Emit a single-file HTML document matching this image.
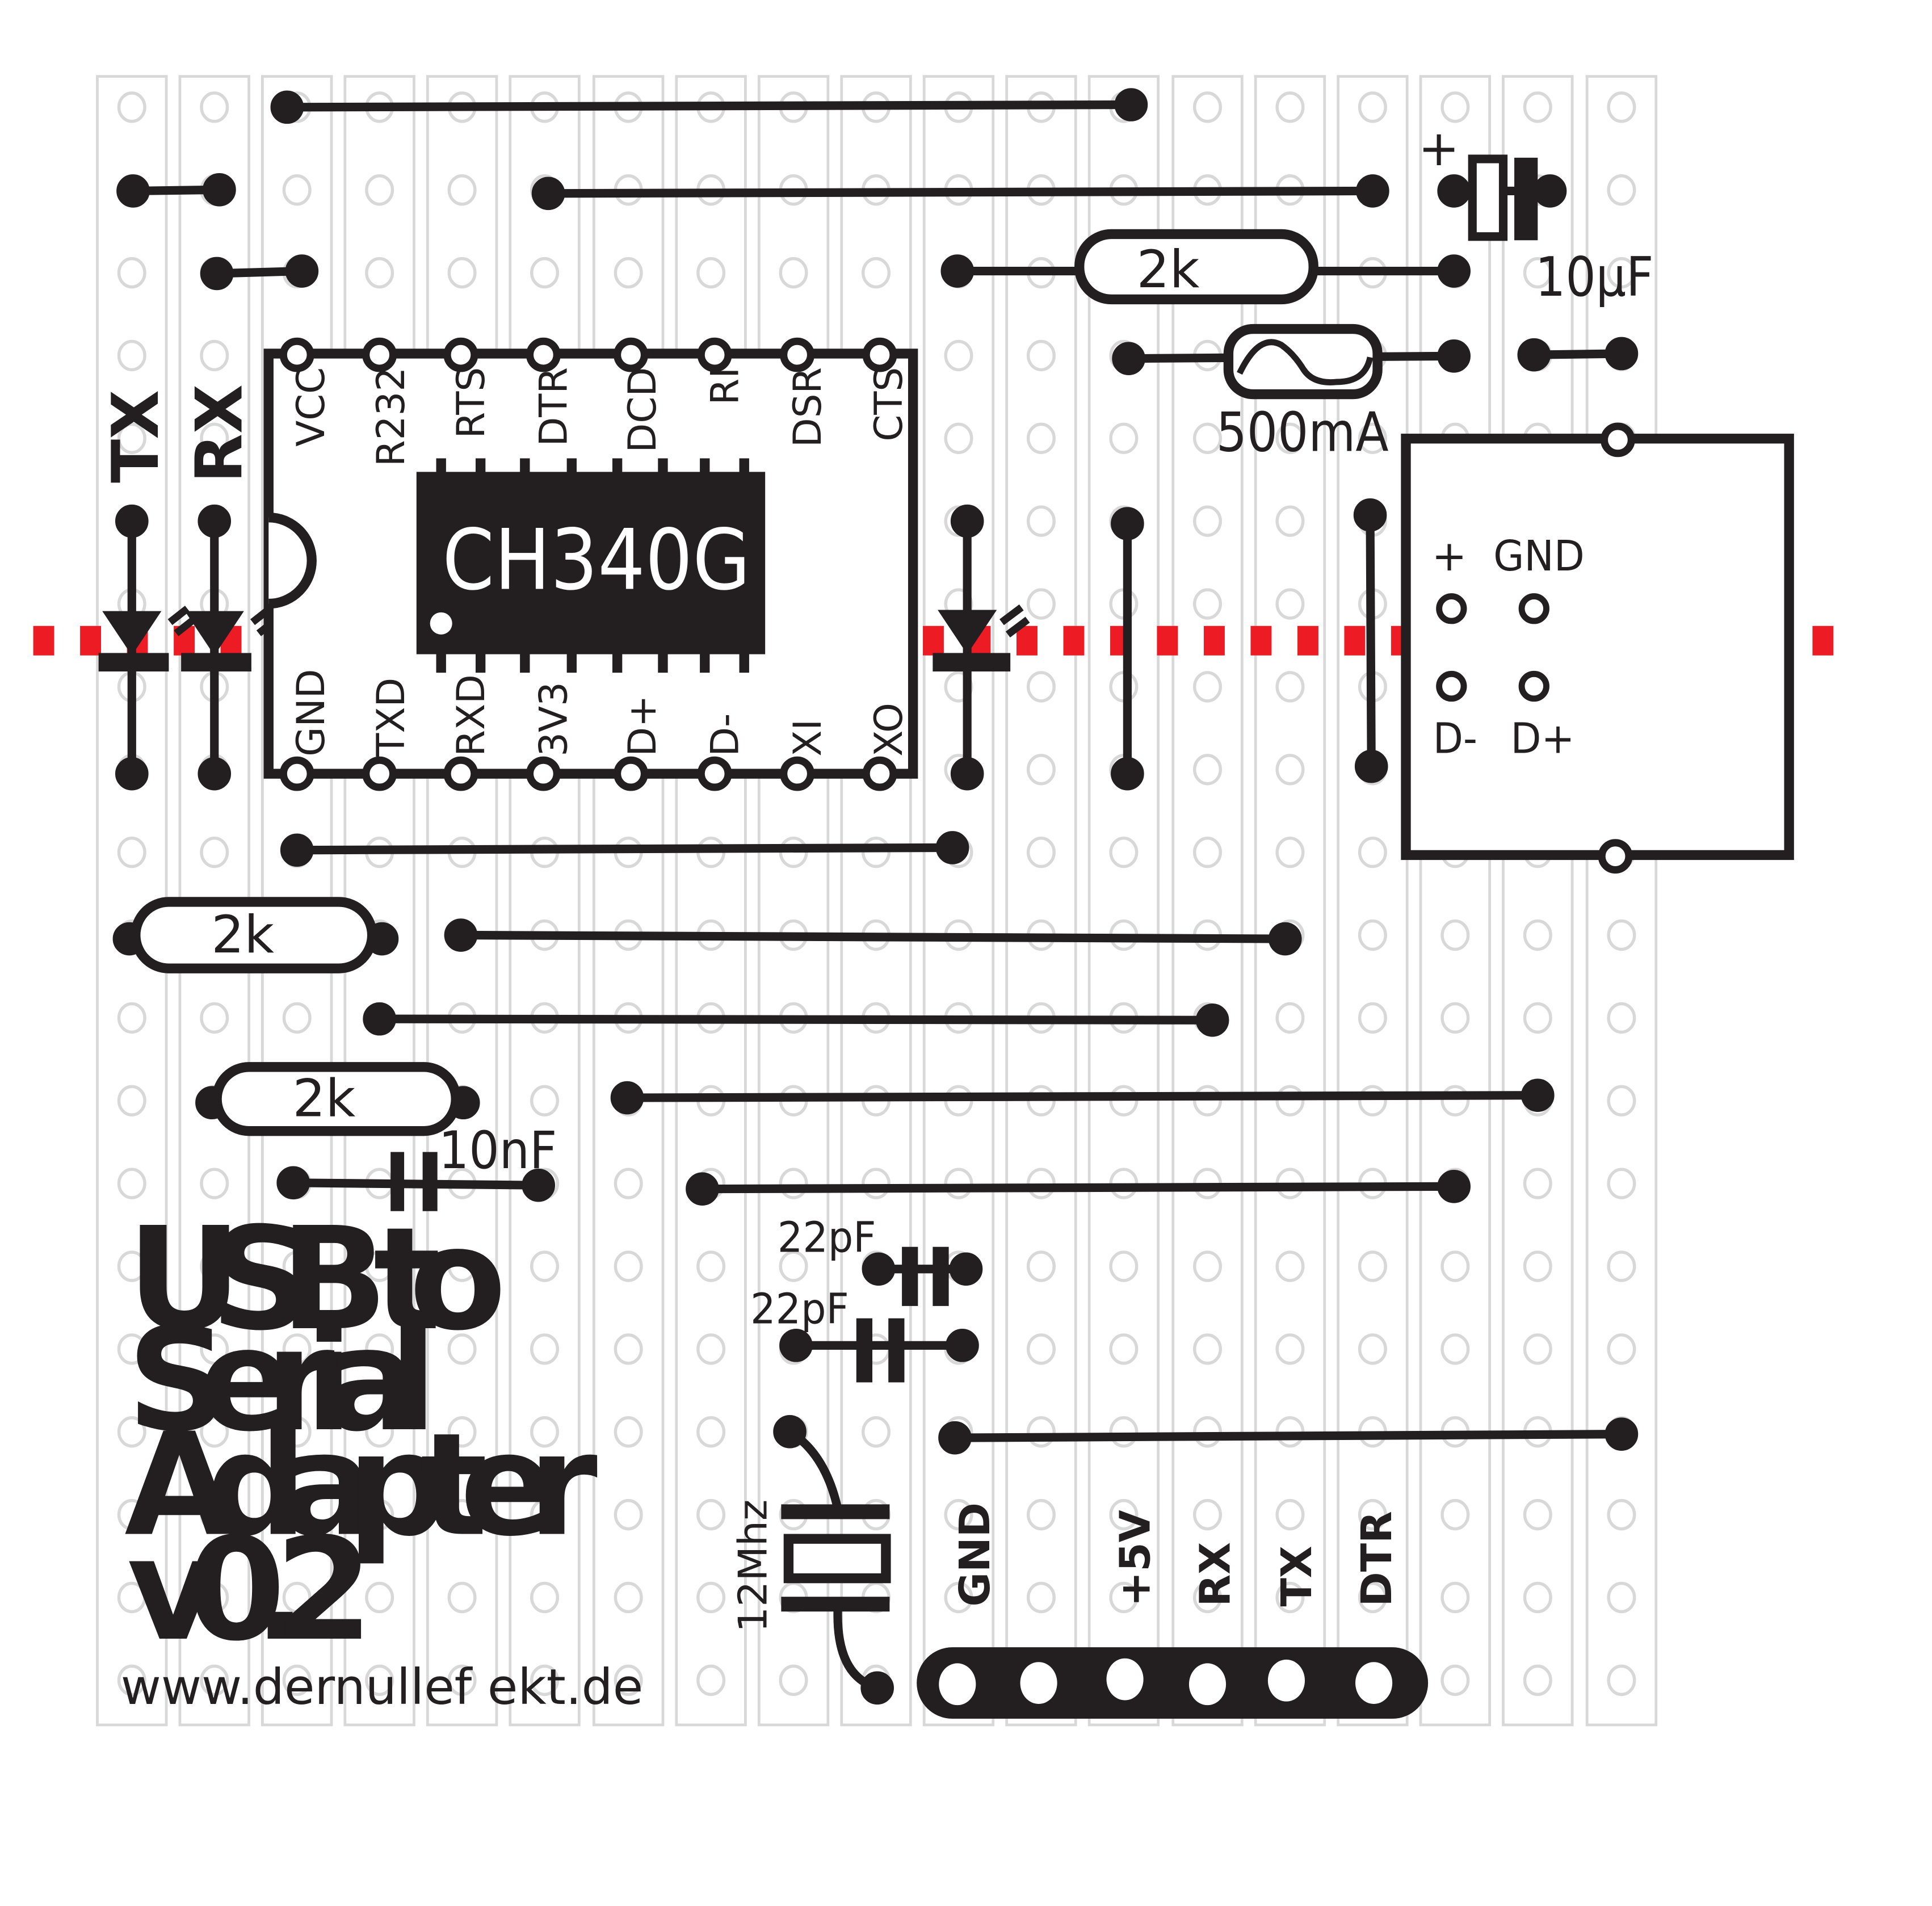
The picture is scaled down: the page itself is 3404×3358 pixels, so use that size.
<!DOCTYPE html>
<html><head><meta charset="utf-8"><style>html,body{margin:0;padding:0;background:#fff}svg{display:block}</style></head>
<body>
<svg xmlns="http://www.w3.org/2000/svg" width="3404" height="3358" viewBox="0 0 1568 1547" preserveAspectRatio="none" font-family="DejaVu Sans, Liberation Sans, sans-serif">
<rect width="1568" height="1547" fill="#fff"/>
<g fill="none" stroke="#d8d8d8" stroke-width="2.2">
<rect x="79" y="62" width="56" height="1338"/><rect x="146" y="62" width="56" height="1338"/><rect x="213" y="62" width="56" height="1338"/><rect x="280" y="62" width="56" height="1338"/><rect x="347" y="62" width="56" height="1338"/><rect x="414" y="62" width="56" height="1338"/><rect x="482" y="62" width="56" height="1338"/><rect x="549" y="62" width="56" height="1338"/><rect x="616" y="62" width="56" height="1338"/><rect x="683" y="62" width="56" height="1338"/><rect x="750" y="62" width="56" height="1338"/><rect x="817" y="62" width="56" height="1338"/><rect x="884" y="62" width="56" height="1338"/><rect x="952" y="62" width="56" height="1338"/><rect x="1019" y="62" width="56" height="1338"/><rect x="1086" y="62" width="56" height="1338"/><rect x="1153" y="62" width="56" height="1338"/><rect x="1220" y="62" width="56" height="1338"/><rect x="1288" y="62" width="56" height="1338"/>
</g>
<g fill="none" stroke="#d8d8d8" stroke-width="2.5">
<g id="r0">
<ellipse cx="107" cy="87" rx="10.5" ry="11.5"/><ellipse cx="174" cy="87" rx="10.5" ry="11.5"/><ellipse cx="241" cy="87" rx="10.5" ry="11.5"/><ellipse cx="308" cy="87" rx="10.5" ry="11.5"/><ellipse cx="375" cy="87" rx="10.5" ry="11.5"/><ellipse cx="442" cy="87" rx="10.5" ry="11.5"/><ellipse cx="510" cy="87" rx="10.5" ry="11.5"/><ellipse cx="577" cy="87" rx="10.5" ry="11.5"/><ellipse cx="644" cy="87" rx="10.5" ry="11.5"/><ellipse cx="711" cy="87" rx="10.5" ry="11.5"/><ellipse cx="778" cy="87" rx="10.5" ry="11.5"/><ellipse cx="845" cy="87" rx="10.5" ry="11.5"/><ellipse cx="912" cy="87" rx="10.5" ry="11.5"/><ellipse cx="980" cy="87" rx="10.5" ry="11.5"/><ellipse cx="1047" cy="87" rx="10.5" ry="11.5"/><ellipse cx="1114" cy="87" rx="10.5" ry="11.5"/><ellipse cx="1181" cy="87" rx="10.5" ry="11.5"/><ellipse cx="1248" cy="87" rx="10.5" ry="11.5"/><ellipse cx="1316" cy="87" rx="10.5" ry="11.5"/>
</g>
<use href="#r0" y="67.2"/><use href="#r0" y="134.4"/><use href="#r0" y="201.6"/><use href="#r0" y="268.8"/><use href="#r0" y="336"/><use href="#r0" y="403.2"/><use href="#r0" y="470.4"/><use href="#r0" y="537.6"/><use href="#r0" y="604.8"/><use href="#r0" y="672"/><use href="#r0" y="739.2"/><use href="#r0" y="806.4"/><use href="#r0" y="873.6"/><use href="#r0" y="940.8"/><use href="#r0" y="1008"/><use href="#r0" y="1075.2"/><use href="#r0" y="1142.4"/><use href="#r0" y="1209.6"/><use href="#r0" y="1276.8"/>
</g>

<line x1="27" y1="520" x2="1500" y2="520" stroke="#ed1c24" stroke-width="24" stroke-dasharray="17 21"/>

<g stroke="#231f20" stroke-width="7" fill="#231f20" stroke-linecap="round">
<line x1="233" y1="87" x2="918" y2="85"/><circle cx="233" cy="87" r="10"/><circle cx="918" cy="85" r="10"/>
<line x1="108" y1="155" x2="178" y2="154"/><circle cx="108" cy="155" r="10"/><circle cx="178" cy="154" r="10"/>
<line x1="445" y1="157" x2="1114" y2="155"/><circle cx="445" cy="157" r="10"/><circle cx="1114" cy="155" r="10"/>
<line x1="176" y1="222" x2="245" y2="220"/><circle cx="176" cy="222" r="10"/><circle cx="245" cy="220" r="10"/>
<line x1="777" y1="220" x2="1180" y2="220"/><circle cx="777" cy="220" r="10"/><circle cx="1180" cy="220" r="10"/>
<line x1="916" y1="291" x2="1180" y2="289"/><circle cx="916" cy="291" r="10"/><circle cx="1180" cy="289" r="10"/>
<line x1="1245" y1="288" x2="1316" y2="287"/><circle cx="1245" cy="288" r="10"/><circle cx="1316" cy="287" r="10"/>
<line x1="1180" y1="155" x2="1258" y2="155"/><circle cx="1180" cy="155" r="10"/><circle cx="1258" cy="155" r="10"/>
<line x1="241" y1="690" x2="773" y2="688"/><circle cx="241" cy="690" r="10"/><circle cx="773" cy="688" r="10"/>
<line x1="374" y1="759" x2="1043" y2="762"/><circle cx="374" cy="759" r="10"/><circle cx="1043" cy="762" r="10"/>
<line x1="308" y1="827" x2="984" y2="828"/><circle cx="308" cy="827" r="10"/><circle cx="984" cy="828" r="10"/>
<line x1="509" y1="891" x2="1248" y2="889"/><circle cx="509" cy="891" r="10"/><circle cx="1248" cy="889" r="10"/>
<line x1="570" y1="965" x2="1180" y2="963"/><circle cx="570" cy="965" r="10"/><circle cx="1180" cy="963" r="10"/>
<line x1="775" y1="1167" x2="1316" y2="1164"/><circle cx="775" cy="1167" r="10"/><circle cx="1316" cy="1164" r="10"/>
<line x1="915" y1="425" x2="915" y2="628"/><circle cx="915" cy="425" r="10"/><circle cx="915" cy="628" r="10"/>
<line x1="1112" y1="418" x2="1113" y2="622"/><circle cx="1112" cy="418" r="10"/><circle cx="1113" cy="622" r="10"/>
<line x1="107" y1="423" x2="107" y2="628"/><circle cx="107" cy="423" r="10"/><circle cx="107" cy="628" r="10"/>
<line x1="174" y1="423" x2="174" y2="628"/><circle cx="174" cy="423" r="10"/><circle cx="174" cy="628" r="10"/>
<line x1="785" y1="423" x2="785" y2="628"/><circle cx="785" cy="423" r="10"/><circle cx="785" cy="628" r="10"/>
<line x1="105" y1="762" x2="310" y2="762"/><circle cx="105" cy="762" r="10"/><circle cx="310" cy="762" r="10"/>
<line x1="172" y1="895" x2="376" y2="895"/><circle cx="172" cy="895" r="10"/><circle cx="376" cy="895" r="10"/>
<line x1="238" y1="960" x2="437" y2="962"/><circle cx="238" cy="960" r="10"/><circle cx="437" cy="962" r="10"/>
<line x1="713" y1="1030" x2="784" y2="1030"/><circle cx="713" cy="1030" r="10"/><circle cx="784" cy="1030" r="10"/>
<line x1="646" y1="1092" x2="781" y2="1092"/><circle cx="646" cy="1092" r="10"/><circle cx="781" cy="1092" r="10"/>
<circle cx="641" cy="1162" r="10"/><circle cx="712" cy="1370" r="10"/>
</g>
<g fill="none" stroke="#231f20" stroke-width="7" stroke-linecap="round">
<path d="M641 1162 Q670 1180 680 1225"/>
<path d="M680 1305 Q678 1360 712 1370"/>
</g>

<g fill="#231f20">
<polygon points="83,496 131,496 107,532"/><rect x="80" y="530" width="57" height="15"/>
<polygon points="150,496 198,496 174,532"/><rect x="147" y="530" width="57" height="15"/>
<polygon points="761,495 809,495 785,531"/><rect x="757" y="530" width="63" height="15"/>
</g>
<g stroke="#231f20" stroke-width="6">
<line x1="138" y1="505" x2="152" y2="494"/><line x1="143" y1="514" x2="157" y2="503"/>
<line x1="205" y1="505" x2="219" y2="494"/><line x1="210" y1="514" x2="224" y2="503"/>
<line x1="813" y1="505" x2="829" y2="493"/><line x1="818" y1="515" x2="834" y2="503"/>
</g>

<g fill="#231f20">
<rect x="317" y="935" width="11" height="48"/><rect x="343" y="935" width="12" height="48"/>
<rect x="732" y="1012" width="13" height="48"/><rect x="757" y="1012" width="13" height="48"/>
<rect x="695" y="1070" width="13" height="52"/><rect x="721" y="1070" width="13" height="52"/>
<rect x="1229" y="128" width="19" height="67"/>
<rect x="634" y="1221" width="88" height="12"/><rect x="634" y="1296" width="88" height="12"/>
</g>
<rect x="1195" y="129" width="25" height="63" fill="#fff" stroke="#231f20" stroke-width="7"/>
<rect x="640" y="1249" width="79" height="32" fill="#fff" stroke="#231f20" stroke-width="8"/>

<g fill="#fff" stroke="#231f20" stroke-width="8">
<rect x="876" y="190" width="190" height="53" rx="26"/>
<rect x="110" y="732" width="192" height="54" rx="27"/>
<rect x="176" y="866" width="194" height="52" rx="26"/>
<rect x="997" y="267" width="121" height="53" rx="20"/>
</g>
<path d="M1006 303 Q1022 270 1040 280 Q1050 287 1058 300 Q1066 312 1085 310 Q1108 310 1112 290" fill="none" stroke="#231f20" stroke-width="5"/>

<rect x="218" y="287" width="523" height="341" fill="#fff" stroke="#231f20" stroke-width="8"/>
<path d="M218 420 A35 35 0 0 1 218 490" fill="#fff" stroke="#231f20" stroke-width="8"/>
<rect x="338" y="383" width="283" height="148" fill="#231f20"/>
<g fill="#231f20">
<rect x="354" y="372" width="8" height="14"/><rect x="386" y="372" width="8" height="14"/><rect x="422" y="372" width="8" height="14"/><rect x="460" y="372" width="8" height="14"/><rect x="497" y="372" width="8" height="14"/><rect x="534" y="372" width="8" height="14"/><rect x="568" y="372" width="8" height="14"/><rect x="600" y="372" width="8" height="14"/>
<rect x="354" y="529" width="8" height="17"/><rect x="386" y="529" width="8" height="17"/><rect x="422" y="529" width="8" height="17"/><rect x="460" y="529" width="8" height="17"/><rect x="497" y="529" width="8" height="17"/><rect x="534" y="529" width="8" height="17"/><rect x="568" y="529" width="8" height="17"/><rect x="600" y="529" width="8" height="17"/>
</g>
<circle cx="358" cy="506" r="9" fill="#fff"/>
<text x="484" y="478" fill="#fff" font-size="68" text-anchor="middle" textLength="250" lengthAdjust="spacingAndGlyphs">CH340G</text>
<g fill="#fff" stroke="#231f20" stroke-width="6">
<circle cx="241" cy="288" r="11"/><circle cx="308" cy="288" r="11"/><circle cx="374" cy="288" r="11"/><circle cx="441" cy="288" r="11"/><circle cx="512" cy="288" r="11"/><circle cx="580" cy="288" r="11"/><circle cx="647" cy="288" r="11"/><circle cx="714" cy="288" r="11"/>
<circle cx="241" cy="628" r="11"/><circle cx="308" cy="628" r="11"/><circle cx="374" cy="628" r="11"/><circle cx="441" cy="628" r="11"/><circle cx="512" cy="628" r="11"/><circle cx="580" cy="628" r="11"/><circle cx="647" cy="628" r="11"/><circle cx="714" cy="628" r="11"/>
</g>
<g fill="#231f20" font-size="31" text-anchor="end">
<text transform="translate(263,298) rotate(-90)">VCC</text>
<text transform="translate(328,298) rotate(-90)">R232</text>
<text transform="translate(393,298) rotate(-90)">RTS</text>
<text transform="translate(460,298) rotate(-90)">DTR</text>
<text transform="translate(532,298) rotate(-90)">DCD</text>
<text transform="translate(599,298) rotate(-90)">RI</text>
<text transform="translate(666,298) rotate(-90)">DSR</text>
<text transform="translate(732,298) rotate(-90)">CTS</text>
</g>
<g fill="#231f20" font-size="31" text-anchor="start">
<text transform="translate(263,614) rotate(-90)">GND</text>
<text transform="translate(328,614) rotate(-90)">TXD</text>
<text transform="translate(393,614) rotate(-90)">RXD</text>
<text transform="translate(460,614) rotate(-90)">3V3</text>
<text transform="translate(532,614) rotate(-90)">D+</text>
<text transform="translate(599,614) rotate(-90)">D-</text>
<text transform="translate(666,614) rotate(-90)">XI</text>
<text transform="translate(732,614) rotate(-90)">XO</text>
</g>
<g fill="#231f20" font-size="52" font-weight="bold" text-anchor="start">
<text transform="translate(128,392) rotate(-90)">TX</text>
<text transform="translate(196,392) rotate(-90)">RX</text>
</g>

<rect x="1141" y="356" width="311" height="338" fill="#fff" stroke="#231f20" stroke-width="8"/>
<circle cx="1313" cy="357" r="11" fill="#fff" stroke="#231f20" stroke-width="6"/>
<circle cx="1311" cy="695" r="11" fill="#fff" stroke="#231f20" stroke-width="6"/>
<g fill="none" stroke="#231f20" stroke-width="5">
<circle cx="1178" cy="494" r="10"/><circle cx="1245" cy="494" r="10"/><circle cx="1178" cy="557" r="10"/><circle cx="1245" cy="557" r="10"/>
</g>
<g fill="#231f20" font-size="34">
<text x="1162" y="463">+</text><text x="1212" y="463" textLength="74" lengthAdjust="spacingAndGlyphs">GND</text>
<text x="1163" y="611" textLength="36" lengthAdjust="spacingAndGlyphs">D-</text><text x="1226" y="611" textLength="52" lengthAdjust="spacingAndGlyphs">D+</text>
</g>

<g fill="#231f20">
<text x="948" y="233" font-size="42" text-anchor="middle">2k</text>
<text x="197" y="773" font-size="42" text-anchor="middle">2k</text>
<text x="263" y="906" font-size="42" text-anchor="middle">2k</text>
<text x="1151" y="134" font-size="40">+</text>
<text x="1246" y="240" font-size="44" textLength="96" lengthAdjust="spacingAndGlyphs">10µF</text>
<text x="987" y="366" font-size="44" textLength="140" lengthAdjust="spacingAndGlyphs">500mA</text>
<text x="356" y="948" font-size="42" textLength="96" lengthAdjust="spacingAndGlyphs">10nF</text>
<text x="631" y="1016" font-size="34" textLength="80" lengthAdjust="spacingAndGlyphs">22pF</text>
<text x="609" y="1074" font-size="34" textLength="80" lengthAdjust="spacingAndGlyphs">22pF</text>
<text transform="translate(622,1325) rotate(-90)" font-size="32" textLength="108" lengthAdjust="spacingAndGlyphs">12Mhz</text>
</g>

<rect x="744" y="1337" width="415" height="58" rx="29" fill="#231f20"/>
<g fill="#fff">
<ellipse cx="777" cy="1367" rx="15" ry="17"/><ellipse cx="843" cy="1366" rx="15" ry="17"/><ellipse cx="913" cy="1363" rx="15" ry="17"/><ellipse cx="980" cy="1367" rx="15" ry="17"/><ellipse cx="1044" cy="1364" rx="15" ry="17"/><ellipse cx="1115" cy="1366" rx="15" ry="17"/>
</g>
<g fill="#231f20" font-size="34" font-weight="bold">
<text transform="translate(803,1304) rotate(-90)">GND</text>
<text transform="translate(933,1304) rotate(-90)">+5V</text>
<text transform="translate(998,1304) rotate(-90)">RX</text>
<text transform="translate(1064,1304) rotate(-90)">TX</text>
<text transform="translate(1129,1304) rotate(-90)">DTR</text>
</g>

<g fill="#231f20" font-weight="bold" font-size="115">
<text x="103" y="1078" textLength="308" lengthAdjust="spacing">USB to</text>
<text x="103" y="1160" textLength="252" lengthAdjust="spacing">Serial</text>
<text x="101" y="1245" textLength="384" lengthAdjust="spacing">Adapter</text>
<text x="103" y="1330" textLength="200" lengthAdjust="spacing">v0.2</text>
</g>
<text x="98" y="1383" fill="#231f20" font-size="40" textLength="424" lengthAdjust="spacingAndGlyphs">www.dernullef ekt.de</text>
</svg>
</body></html>
